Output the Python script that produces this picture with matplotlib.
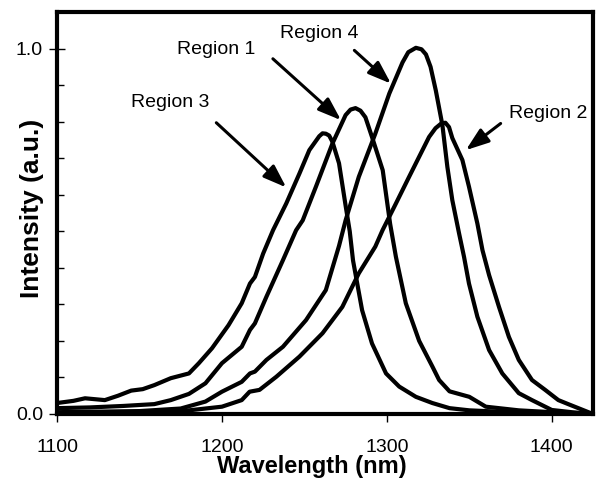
import matplotlib
matplotlib.use("Agg")
import matplotlib.pyplot as plt
from matplotlib.ticker import MultipleLocator

plt.rcParams['font.family'] = ['Liberation Sans', 'DejaVu Sans']

# ---- data ----
r3_wl = [1100, 1110, 1117, 1129, 1137, 1145, 1152, 1159, 1169, 1180, 1186, 1194, 1204, 1212,
         1217, 1220, 1225, 1231, 1239, 1247, 1253, 1259, 1261, 1263, 1265, 1267, 1271, 1275,
         1277.5, 1279.5, 1285, 1291, 1299.5, 1307.5, 1317.6, 1327.6, 1338, 1350, 1370, 1400,
         1425]
r3_i = [0.030, 0.036, 0.043, 0.038, 0.050, 0.064, 0.068, 0.079, 0.098, 0.111, 0.139, 0.180,
        0.243, 0.303, 0.357, 0.375, 0.439, 0.503, 0.576, 0.658, 0.722, 0.760, 0.768, 0.767,
        0.762, 0.745, 0.686, 0.570, 0.500, 0.420, 0.284, 0.193, 0.111, 0.075, 0.047, 0.030,
        0.016, 0.010, 0.006, 0.003, 0.0]

r1_wl = [1100, 1120, 1140, 1159, 1169, 1180, 1190, 1200, 1212, 1217, 1220, 1227, 1237, 1245,
         1249, 1257, 1267, 1275, 1278, 1281, 1284, 1287, 1291, 1297.5, 1302, 1305.5, 1311.5,
         1319.6, 1327.6, 1331.7, 1338, 1350, 1360, 1380, 1400, 1425]
r1_i = [0.016, 0.018, 0.022, 0.027, 0.038, 0.055, 0.084, 0.139, 0.184, 0.230, 0.248, 0.321,
        0.421, 0.503, 0.530, 0.622, 0.740, 0.818, 0.833, 0.837, 0.830, 0.812, 0.758, 0.667,
        0.520, 0.430, 0.303, 0.200, 0.130, 0.093, 0.062, 0.047, 0.020, 0.010, 0.005, 0.0]

r4_wl = [1100, 1150, 1175, 1190, 1200, 1212, 1217, 1220, 1227, 1237, 1251, 1263, 1271, 1275,
         1283, 1293, 1301.5, 1309.5, 1313, 1317.6, 1321, 1323.7, 1326.5, 1329.7, 1333.7,
         1336.7, 1339.7, 1343.8, 1346.8, 1349.8, 1354.9, 1362, 1370, 1380, 1388, 1400, 1412,
         1425]
r4_i = [0.005, 0.008, 0.015, 0.034, 0.061, 0.088, 0.111, 0.116, 0.148, 0.184, 0.257, 0.339,
        0.460, 0.530, 0.649, 0.767, 0.877, 0.962, 0.990, 1.002, 0.998, 0.984, 0.950, 0.885,
        0.790, 0.676, 0.585, 0.494, 0.430, 0.357, 0.266, 0.175, 0.111, 0.057, 0.038, 0.011,
        0.005, 0.0]

r2_wl = [1100, 1150, 1180, 1200, 1212, 1216.8, 1222.8, 1233, 1247, 1261, 1273, 1283, 1293,
         1297.4, 1300.4, 1305.5, 1313.5, 1319.6, 1325.6, 1329.5, 1333, 1335.5, 1337.7, 1339.7,
         1345.8, 1349.8, 1354.9, 1358, 1362, 1368, 1374, 1380, 1388, 1396, 1404, 1410, 1425]
r2_i = [0.003, 0.005, 0.010, 0.020, 0.038, 0.061, 0.066, 0.102, 0.157, 0.221, 0.293, 0.385,
        0.458, 0.503, 0.530, 0.576, 0.649, 0.704, 0.758, 0.782, 0.795, 0.797, 0.785, 0.755,
        0.695, 0.622, 0.521, 0.448, 0.380, 0.293, 0.211, 0.148, 0.093, 0.066, 0.038, 0.027,
        0.0]

labels = ["Region 3", "Region 1", "Region 4", "Region 2"]
label_xy = [(1168.4, 0.853), (1196.6, 0.998), (1259.1, 1.042), (1397.6, 0.823)]
arrow_start = [(1196.6, 0.797), (1230.9, 0.972), (1280.3, 0.995), (1369.0, 0.795)]
arrow_tip = [(1239.0, 0.620), (1272.2, 0.804), (1302.5, 0.904), (1347.9, 0.722)]

x_ticks = [1100, 1200, 1300, 1400]
y_ticks = [0.0, 1.0]
y_ticklabels = ["0.0", "1.0"]

# ---- figure ----
fig = plt.figure(figsize=(5.97, 4.82), dpi=100)
ax = fig.add_axes([57/597, 1-414/482, (593-57)/597, (414-12)/482])

for wl, inten in [(r3_wl, r3_i), (r1_wl, r1_i), (r4_wl, r4_i), (r2_wl, r2_i)]:
    ax.plot(wl, inten, color='black', lw=3.0, solid_joinstyle='round', solid_capstyle='round')

for lab, (tx, ty), (sx, sy), (ex, ey) in zip(labels, label_xy, arrow_start, arrow_tip):
    ax.text(tx, ty, lab, ha='center', va='center', fontsize=14)
    ax.annotate('', xy=(ex, ey), xytext=(sx, sy),
                arrowprops=dict(arrowstyle='-|>,head_length=1.4,head_width=0.5',
                                mutation_scale=10, lw=2.2, color='black',
                                shrinkA=0, shrinkB=0))

ax.set_xlim(1100, 1425)
ax.set_ylim(0, 1.1)
ax.set_xticks(x_ticks)
ax.set_yticks(y_ticks)
ax.set_yticklabels(y_ticklabels)
ax.yaxis.set_minor_locator(MultipleLocator(0.1))
ax.tick_params(axis='x', direction='out', length=6, width=1, labelsize=14, pad=12)
ax.tick_params(axis='y', which='major', direction='inout', length=12, width=1, labelsize=14, pad=4)
ax.tick_params(axis='y', which='minor', direction='in', length=5, width=1)
for s in ax.spines.values():
    s.set_linewidth(3.0)

ax.set_xlabel('Wavelength (nm)', fontsize=17, fontweight='bold')
ax.set_ylabel('Intensity (a.u.)', fontsize=19, fontweight='bold')
ax.xaxis.set_label_coords((312 - 57) / 536, -(466 - 414) / 402)
ax.yaxis.set_label_coords((32 - 57) / 536, (414 - 208) / 402)
ax.xaxis.label.set_va('center')
ax.yaxis.label.set_va('center')

fig.savefig('out.png', dpi=100)
